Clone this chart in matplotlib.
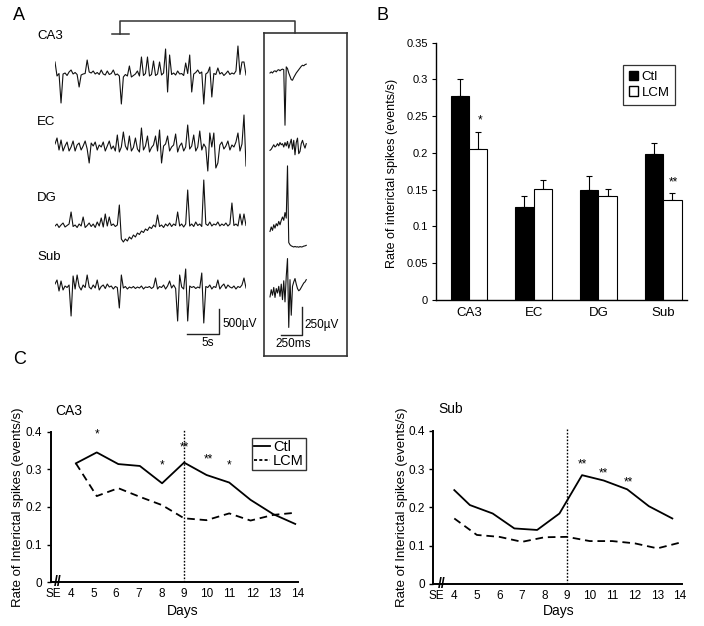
import matplotlib
matplotlib.use('Agg')
import matplotlib.pyplot as plt
import numpy as np
from matplotlib.patches import Patch
from matplotlib.lines import Line2D

plt.rcParams['font.family'] = ['Liberation Sans', 'DejaVu Sans']
plt.rcParams['lines.scale_dashes'] = False

# ---------------- DATA ----------------
# Panel A: example traces (µV, relative to each trace's baseline), 96 samples over 30 s
trace_names = ['CA3', 'EC', 'DG', 'Sub']
ca3_trace = [260, -20, 30, -560, 20, 40, -10, 60, 100, 20, 50, 10, -240, 0, 20, 30,
             300, 60, 40, 80, 20, 50, 10, 100, 20, 0, 80, 10, 30, 100, 0, 20,
             -20, -580, -40, 10, -20, 180, -40, -10, 20, 80, -20, 360, -10, 30, 360, -20,
             10, 280, -10, 20, 260, 0, 40, 520, -340, 400, 10, 40, 0, 80, 20, 30,
             -10, 240, 30, 400, -340, 20, 50, 100, 30, 60, -580, 20, 50, 160, -440, 30,
             10, 140, 20, 50, -10, 30, 80, 10, 40, 20, 80, 580, 10, 260, 260, 0]
ec_trace = [80, 200, -40, 160, -60, 40, 120, -60, 20, 140, -60, 60, 100, -40, 40, 140,
            -20, -300, 100, 40, 120, -40, 60, 20, 120, -60, 40, 140, -20, 40, -60, 260,
            -80, 20, 320, 40, -40, 240, -60, 10, 200, -20, -80, 400, -40, 40, 240, -80,
            10, 60, 240, -60, 360, -300, 40, 80, 240, -60, 20, 60, 280, -80, 40, 100,
            -60, 20, 460, -20, 40, 260, -60, 20, 340, -40, 80, 10, -460, 300, 20, 300,
            -400, -300, 60, 120, -20, 40, 140, -40, 60, 20, 120, 300, -60, 80, 660, -360]
dg_trace = [20, 60, -10, 40, 80, 0, 30, 60, 300, 10, 40, -10, 60, 20, 200, -10,
            30, 80, 10, 60, -10, 100, 20, 180, 0, 260, 20, 200, 30, 60, 10, 40,
            440, -240, -300, -240, -280, -200, -240, -160, -200, -120, -150, -80, -110, -40, -70, 0,
            -30, 40, 0, 240, 10, 40, -10, 60, 20, 80, 10, 60, 30, 300, 20, 60,
            0, 60, 740, 20, 60, 10, 100, 30, 60, 10, 940, 60, 30, 100, 20, 60,
            40, 100, 20, 60, 30, 80, 20, 60, 480, 30, 60, 20, 260, 40, 260, 30]
sub_trace = [80, 160, -60, 140, -40, 40, 10, 60, -560, 240, -20, 260, 30, -40, 60, 10,
             260, 20, -20, 60, 0, 160, -40, 30, 60, -10, 80, 20, 40, -20, 30, 10,
             -400, 260, 0, 30, -20, 20, 0, 30, -10, 20, 0, 40, -20, 20, 10, 30,
             -10, 20, 200, -20, 30, 10, 60, -20, 40, 140, 0, 60, -10, -660, 260, 20,
             -20, 380, -660, 40, 10, 30, -10, 20, 0, 300, -700, 30, 10, 60, -20, 30,
             10, 160, -20, 40, 80, -10, 60, 20, 0, 40, -20, 30, 10, 60, 200, 0]
trace_duration_s = 30.0

# Panel A inset: single interictal spikes (µV), 30 samples, 15 ms apart
ca3_spike = [0, 10, 0, 15, 20, 10, 25, 30, 20, 30, 35, 30, -470, 55, 40, 0,
             -30, -60, -65, -40, -20, 0, 15, 30, 45, 60, 70, 65, 75, 80]
ec_spike = [-30, -20, 0, 20, 0, 10, 30, 10, 40, 20, 30, 0, 40, 10, 50, -10,
            30, 70, -20, 60, -70, 40, 80, -60, -40, 30, 60, 20, -10, 30]
dg_spike = [-40, 0, -30, 20, -10, 30, 10, 50, 20, 60, 90, 60, 130, 80, 550, -140,
            -160, -170, -175, -180, -175, -180, -178, -182, -176, -180, -178, -172, -170, -165]
sub_spike = [-35, 30, -20, 50, -40, 40, 0, 60, -30, 80, -60, 110, -80, 150, 310, -310,
             120, -200, 60, 100, 130, 80, 40, 20, 30, 50, 70, 90, 100, 120]
spike_dt_ms = 15

# Panel B: rate of interictal spikes
regions = ['CA3', 'EC', 'DG', 'Sub']
ctl_rate = [0.278, 0.127, 0.149, 0.199]
ctl_err = [0.022, 0.015, 0.020, 0.015]
lcm_rate = [0.206, 0.151, 0.142, 0.136]
lcm_err = [0.023, 0.012, 0.009, 0.009]
b_yticks = [0, 0.05, 0.1, 0.15, 0.2, 0.25, 0.3, 0.35]
b_yticklabels = ['0', '0.05', '0.1', '0.15', '0.2', '0.25', '0.3', '0.35']
b_stars = ['*', '', '', '**']

# Panel C: time course
c_xticks = [3.22, 4, 5, 6, 7, 8, 9, 10, 11, 12, 13, 14]
c_xticklabels = ['SE', '4', '5', '6', '7', '8', '9', '10', '11', '12', '13', '14']
c_yticks = [0, 0.1, 0.2, 0.3, 0.4]
c_yticklabels = ['0', '0.1', '0.2', '0.3', '0.4']
lcm_start_day = 9

ca3_days = [4.23, 5.15, 6.1, 7.05, 8.03, 9.0, 9.99, 10.99, 11.93, 12.93, 13.9]
ca3_ctl = [0.316, 0.345, 0.314, 0.309, 0.263, 0.318, 0.285, 0.265, 0.219, 0.181, 0.155]
ca3_lcm_days = [4.23, 5.15, 6.1, 7.05, 8.03, 9.0, 9.99, 10.99, 11.93, 12.93, 13.95]
ca3_lcm = [0.316, 0.229, 0.250, 0.227, 0.205, 0.170, 0.165, 0.183, 0.164, 0.179, 0.185]
ca3_star_days = [5.15, 8.03, 9.0, 10.05, 11.0]
ca3_star_vals = [0.399, 0.318, 0.365, 0.335, 0.318]
ca3_star_text = ['*', '*', '**', '**', '*']

sub_days = [4.0, 4.69, 5.7, 6.66, 7.67, 8.66, 9.66, 10.62, 11.66, 12.62, 13.66]
sub_ctl = [0.245, 0.206, 0.184, 0.145, 0.141, 0.184, 0.284, 0.270, 0.247, 0.203, 0.171]
sub_lcm_days = [4, 5, 6, 7, 8, 9, 10, 11, 12, 13, 14]
sub_lcm = [0.171, 0.128, 0.123, 0.110, 0.122, 0.123, 0.112, 0.112, 0.106, 0.093, 0.108]
sub_star_days = [9.66, 10.62, 11.73]
sub_star_vals = [0.319, 0.297, 0.271]
sub_star_text = ['**', '**', '**']

# ---------------- FIGURE ----------------
W, H = 704, 626
fig = plt.figure(figsize=(W / 100, H / 100), dpi=100)


def px_axes(l, t, r, b):
    ax = fig.add_axes([l / W, 1 - b / H, (r - l) / W, (b - t) / H])
    ax.patch.set_visible(False)
    return ax


# overlay for panel letters, labels and bracket (pixel coordinates)
ov = px_axes(0, 0, W, H)
ov.set_xlim(0, W)
ov.set_ylim(H, 0)
ov.axis('off')
for letter, (x, y) in zip(['A', 'B', 'C'], [(13, 15), (377, 15), (13, 360)]):
    ov.text(x, y, letter, fontsize=13, ha='left', va='center')
for name, y in zip(trace_names, [36, 122, 198, 257]):
    ov.text(37, y, name, fontsize=9.5, ha='left', va='center')
# bracket linking the expanded spike to the inset
brk_col = '#333333'
ov.plot([112, 129], [34, 34], color=brk_col, lw=1.1)
ov.plot([120, 120, 295, 295], [34, 20.7, 20.7, 33], color=brk_col, lw=1.1)
ov.text(222, 324, '500µV', fontsize=8.5, ha='left', va='center')
ov.text(208, 343, '5s', fontsize=8.5, ha='center', va='center')
ov.text(304, 325, '250µV', fontsize=8.5, ha='left', va='center')
ov.text(293, 344, '250ms', fontsize=8.5, ha='center', va='center')

# Panel A traces: 20 µV per pixel, 30 s across
axA = px_axes(55, 20, 246, 350)
axA.set_xlim(0, trace_duration_s)
axA.set_ylim(-6600, 0)
axA.axis('off')
traces = [ca3_trace, ec_trace, dg_trace, sub_trace]
offsets = [-1100, -2560, -4140, -5360]
for tr, off in zip(traces, offsets):
    tr = np.asarray(tr, dtype=float)
    tt = np.linspace(0, trace_duration_s, len(tr))
    axA.plot(tt, tr + off, color='#111111', lw=0.8)
# scale bars 5 s / 500 µV
sb_t, sb_v = 5.0, 500.0
sb_x1, sb_y0 = 25.75, -6280
axA.plot([sb_x1 - sb_t, sb_x1, sb_x1], [sb_y0, sb_y0, sb_y0 + sb_v], color='#222222', lw=1.0)

# Panel A inset: 12 ms per pixel, 9 µV per pixel
axI = px_axes(264, 33, 347, 356)
axI.set_xlim(0, 996)
axI.set_ylim(-2907, 0)
axI.set_xticks([])
axI.set_yticks([])
for s in axI.spines.values():
    s.set_color('#333333')
    s.set_linewidth(1.2)
spikes = [ca3_spike, ec_spike, dg_spike, sub_spike]
ioffsets = [-360, -1026, -1746, -2340]
for sp, off in zip(spikes, ioffsets):
    sp = np.asarray(sp, dtype=float)
    ts = 72 + np.arange(len(sp)) * spike_dt_ms
    axI.plot(ts, sp + off, color='#111111', lw=0.8)
isb_t, isb_v = 250.0, 250.0
isb_x1, isb_y0 = 452, -2718
axI.plot([isb_x1 - isb_t, isb_x1, isb_x1], [isb_y0, isb_y0, isb_y0 + isb_v], color='#222222', lw=1.0)

# ---------------- Panel B ----------------
axB = px_axes(436, 42.7, 687, 300)
x = np.arange(len(regions))
bw = 0.285
axB.bar(x - bw / 2, ctl_rate, bw, color='black', edgecolor='black', lw=0.8, label='Ctl', zorder=2)
axB.bar(x + bw / 2, lcm_rate, bw, color='white', edgecolor='black', lw=0.8, label='LCM', zorder=2)
axB.errorbar(x - bw / 2, ctl_rate, yerr=[np.zeros(4), ctl_err], fmt='none', ecolor='black',
             elinewidth=0.8, capsize=2.5, capthick=0.8, zorder=1)
axB.errorbar(x + bw / 2, lcm_rate, yerr=[np.zeros(4), lcm_err], fmt='none', ecolor='black',
             elinewidth=0.8, capsize=2.5, capthick=0.8, zorder=1)
for xi, v, e, st in zip(x, lcm_rate, lcm_err, b_stars):
    if st:
        axB.annotate(st, (xi + bw / 2, v + e), xytext=(1, 8), textcoords='offset points',
                     ha='center', va='center', fontsize=8.5)
axB.set_xlim(-0.51, 3.37)
axB.set_ylim(0, 0.35)
axB.set_xticks(x)
axB.set_xticklabels(regions, fontsize=9.5)
axB.set_yticks(b_yticks)
axB.set_yticklabels(b_yticklabels, fontsize=8)
axB.tick_params(axis='x', length=0, pad=5)
axB.tick_params(axis='y', direction='out', length=3, width=0.8, pad=3)
for s in ['top', 'right']:
    axB.spines[s].set_visible(False)
for s in ['left', 'bottom']:
    axB.spines[s].set_linewidth(1.0)
axB.set_ylabel('Rate of interictal spikes (events/s)', fontsize=9)
axB.yaxis.set_label_coords(-0.153, 0.49)
legB = axB.legend(handles=[Patch(facecolor='black', edgecolor='black', label='Ctl'),
                           Patch(facecolor='white', edgecolor='black', label='LCM')],
                  loc='upper left', bbox_to_anchor=(623 / W, 1 - 65 / H),
                  bbox_transform=fig.transFigure, fontsize=9.5, fancybox=False,
                  edgecolor='black', handlelength=0.7, handleheight=0.7,
                  handletextpad=0.25, labelspacing=0.25, borderpad=0.45, borderaxespad=0)
legB.get_frame().set_linewidth(0.9)

# ---------------- Panel C ----------------
long_dash = (0, (5.5, 3.5))


def style_c(ax, title, xl_coords, yl_x):
    ax.set_ylim(0, 0.4)
    ax.set_xticks(c_xticks)
    ax.set_xticklabels(c_xticklabels, fontsize=8.5)
    ax.set_yticks(c_yticks)
    ax.set_yticklabels(c_yticklabels, fontsize=8.5)
    ax.tick_params(axis='x', length=0, pad=4)
    ax.tick_params(axis='y', direction='out', length=3, width=1.0, pad=3)
    for s in ['top', 'right']:
        ax.spines[s].set_visible(False)
    for s in ['left', 'bottom']:
        ax.spines[s].set_linewidth(1.4)
    ax.set_xlabel('Days', fontsize=10)
    ax.xaxis.set_label_coords(*xl_coords)
    ax.set_ylabel('Rate of Interictal spikes (events/s)', fontsize=9.5)
    ax.yaxis.set_label_coords(yl_x, 0.5)
    ax.text(0.02, 1.14, title, transform=ax.transAxes, fontsize=10, ha='left', va='center')
    ax.text(3.45, 0, '//', fontsize=10, fontweight='bold', ha='center', va='center', clip_on=False)
    ax.plot([lcm_start_day, lcm_start_day], [0, 0.405], color='black', lw=1.0,
            linestyle=(0, (1.2, 1.2)), clip_on=False)


axC1 = px_axes(50.7, 431.7, 297.5, 582.3)
axC1.set_xlim(3.12, 14.0)
axC1.plot(ca3_days, ca3_ctl, color='black', lw=1.3, clip_on=False)
axC1.plot(ca3_lcm_days, ca3_lcm, color='black', lw=1.3, linestyle=long_dash, clip_on=False)
for d, v, st in zip(ca3_star_days, ca3_star_vals, ca3_star_text):
    axC1.annotate(st, (d, v), xytext=(0, -2), textcoords='offset points',
                  ha='center', va='center', fontsize=8.5)
style_c(axC1, 'CA3', (0.533, -0.144), -0.108)
legC = axC1.legend(handles=[Line2D([], [], color='black', lw=1.3, label='Ctl'),
                            Line2D([], [], color='black', lw=1.3, linestyle=(0, (2.2, 1.6)), label='LCM')],
                   loc='upper left', bbox_to_anchor=(252 / W, 1 - 438 / H),
                   bbox_transform=fig.transFigure, fontsize=10.5, fancybox=False,
                   edgecolor='black', handlelength=1.1, handletextpad=0.2,
                   labelspacing=0.0, borderpad=0.15, borderaxespad=0)
legC.get_frame().set_linewidth(1.0)

axC2 = px_axes(433.3, 430.7, 681.7, 584)
axC2.set_xlim(3.07, 14.075)
axC2.plot(sub_days, sub_ctl, color='black', lw=1.3, clip_on=False)
axC2.plot(sub_lcm_days, sub_lcm, color='black', lw=1.3, linestyle=long_dash, clip_on=False)
for d, v, st in zip(sub_star_days, sub_star_vals, sub_star_text):
    axC2.annotate(st, (d, v), xytext=(0, -2), textcoords='offset points',
                  ha='center', va='center', fontsize=8.5)
style_c(axC2, 'Sub', (0.503, -0.13), -0.102)

fig.savefig('out.png', dpi=100)
